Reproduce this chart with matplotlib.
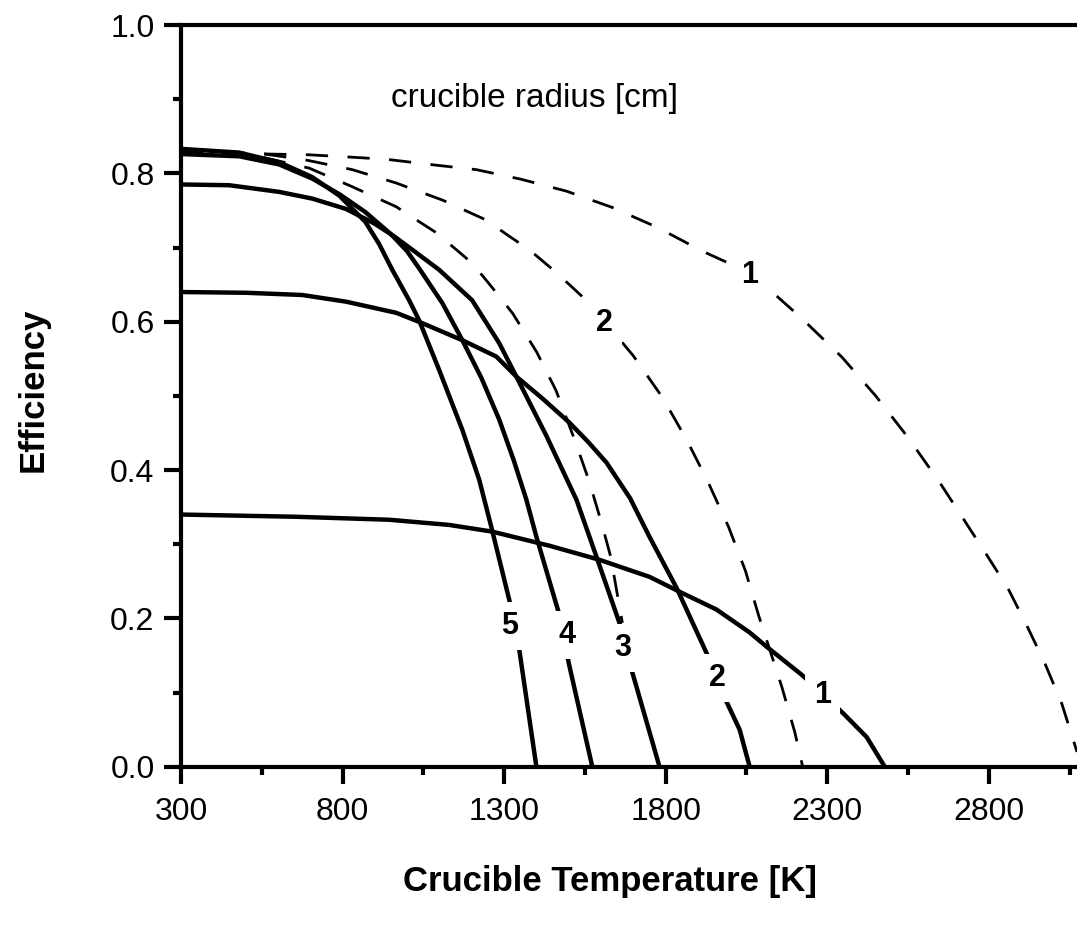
import matplotlib
matplotlib.use('Agg')  # headless
import matplotlib.pyplot as plt

plt.rcParams['font.family'] = ['Liberation Sans', 'DejaVu Sans']

# solid curves (crucible radius 1..5 cm)
t_r1 = [300, 656, 944, 1130, 1263, 1440, 1595, 1750, 1852, 1957, 2060, 2112, 2221, 2290, 2354, 2422, 2478]
e_r1 = [0.340, 0.337, 0.333, 0.326, 0.317, 0.298, 0.279, 0.256, 0.234, 0.212, 0.181, 0.162, 0.124, 0.097, 0.070, 0.040, 0.0]

t_r2 = [300, 501, 675, 811, 966, 1047, 1171, 1276, 1338, 1420, 1502, 1560, 1617, 1690, 1750, 1834, 1929, 1988, 2029, 2060]
e_r2 = [0.640, 0.639, 0.636, 0.627, 0.612, 0.598, 0.575, 0.553, 0.526, 0.496, 0.464, 0.438, 0.410, 0.362, 0.310, 0.241, 0.151, 0.088, 0.050, 0.0]

t_r3 = [300, 449, 604, 706, 811, 900, 960, 1016, 1099, 1201, 1285, 1338, 1430, 1524, 1586, 1657, 1697, 1781]
e_r3 = [0.785, 0.784, 0.775, 0.766, 0.752, 0.732, 0.715, 0.697, 0.670, 0.629, 0.571, 0.526, 0.447, 0.360, 0.283, 0.194, 0.127, 0.0]

t_r4 = [300, 480, 604, 706, 790, 870, 950, 1000, 1037, 1109, 1171, 1230, 1285, 1330, 1369, 1400, 1471, 1500, 1573]
e_r4 = [0.826, 0.823, 0.812, 0.793, 0.772, 0.748, 0.718, 0.695, 0.672, 0.625, 0.575, 0.524, 0.468, 0.413, 0.360, 0.310, 0.205, 0.140, 0.0]

t_r5 = [300, 480, 604, 706, 790, 870, 913, 954, 1006, 1037, 1099, 1171, 1223, 1263, 1316, 1347, 1400]
e_r5 = [0.833, 0.828, 0.815, 0.795, 0.770, 0.735, 0.705, 0.670, 0.629, 0.602, 0.535, 0.454, 0.387, 0.319, 0.225, 0.158, 0.0]

# dashed curves
t_d1 = [300, 573, 697, 820, 935, 1090, 1214, 1353, 1493, 1635, 1775, 1914, 2000, 2122, 2220, 2346, 2450, 2550, 2650, 2790, 2860, 2918, 2973, 3026, 3073]
e_d1 = [0.830, 0.826, 0.825, 0.822, 0.819, 0.811, 0.805, 0.792, 0.776, 0.754, 0.727, 0.695, 0.678, 0.643, 0.605, 0.552, 0.500, 0.444, 0.382, 0.288, 0.240, 0.190, 0.140, 0.085, 0.020]

t_d2 = [300, 560, 687, 830, 966, 1109, 1245, 1310, 1378, 1446, 1502, 1564, 1700, 1790, 1866, 1930, 1995, 2047, 2087, 2160, 2200, 2224]
e_d2 = [0.830, 0.826, 0.818, 0.805, 0.787, 0.764, 0.737, 0.717, 0.697, 0.672, 0.650, 0.625, 0.554, 0.498, 0.440, 0.385, 0.323, 0.264, 0.205, 0.107, 0.046, 0.0]

t_d3 = [300, 500, 697, 830, 966, 1090, 1201, 1254, 1327, 1401, 1461, 1519, 1564, 1602, 1630, 1666]
e_d3 = [0.830, 0.827, 0.807, 0.782, 0.755, 0.720, 0.679, 0.651, 0.611, 0.559, 0.507, 0.440, 0.384, 0.328, 0.283, 0.194]

# curve labels: text, T, efficiency
curve_labels = [('5', 1316, 0.190), ('4', 1496, 0.178), ('3', 1666, 0.160),
                ('2', 1960, 0.120), ('1', 2286, 0.097),
                ('2', 1610, 0.598), ('1', 2060, 0.663)]

x_ticks = [300, 800, 1300, 1800, 2300, 2800]
x_minor = [550, 1050, 1550, 2050, 2550, 3050]
y_ticks = [0.0, 0.2, 0.4, 0.6, 0.8, 1.0]
y_minor = [0.1, 0.3, 0.5, 0.7, 0.9]

fig = plt.figure(figsize=(10.77, 9.26), dpi=100)
ax = fig.add_axes([0.168, 0.172, 0.832, 0.801])

for t, e in [(t_d1, e_d1), (t_d2, e_d2), (t_d3, e_d3)]:
    ax.plot(t, e, color='black', lw=2.0, dashes=(8, 7), solid_capstyle='butt')
for t, e in [(t_r1, e_r1), (t_r2, e_r2), (t_r3, e_r3), (t_r4, e_r4), (t_r5, e_r5)]:
    ax.plot(t, e, color='black', lw=3.2, solid_joinstyle='round', solid_capstyle='butt')

for txt, x, y in curve_labels:
    ax.text(x, y, txt, fontsize=22, fontweight='bold', ha='center', va='center', zorder=5,
            bbox=dict(boxstyle='square,pad=0.3', facecolor='white', edgecolor='none'))

ax.text(1393, 0.901, 'crucible radius [cm]', fontsize=24, ha='center', va='center')

ax.set_xlim(300, 3073)
ax.set_ylim(0, 1.0)
ax.set_xticks(x_ticks)
ax.set_xticks(x_minor, minor=True)
ax.set_yticks(y_ticks)
ax.set_yticklabels([f'{v:.1f}' for v in y_ticks])
ax.set_yticks(y_minor, minor=True)

ax.spines['right'].set_visible(False)
for s in ['left', 'bottom', 'top']:
    ax.spines[s].set_linewidth(3.0)
ax.tick_params(which='major', direction='out', length=12, width=3, labelsize=23)
ax.tick_params(axis='x', which='major', pad=10)
ax.tick_params(axis='y', which='major', pad=7)
ax.tick_params(which='minor', direction='out', length=6, width=3)
ax.tick_params(top=False, right=False, which='both')

ax.set_xlabel('Crucible Temperature [K]', fontsize=25, fontweight='bold')
ax.set_ylabel('Efficiency', fontsize=25, fontweight='bold')
ax.xaxis.set_label_coords(0.479, -0.133)
ax.yaxis.set_label_coords(-0.146, 0.508)

plt.savefig('out.png', dpi=100)
plt.close()
